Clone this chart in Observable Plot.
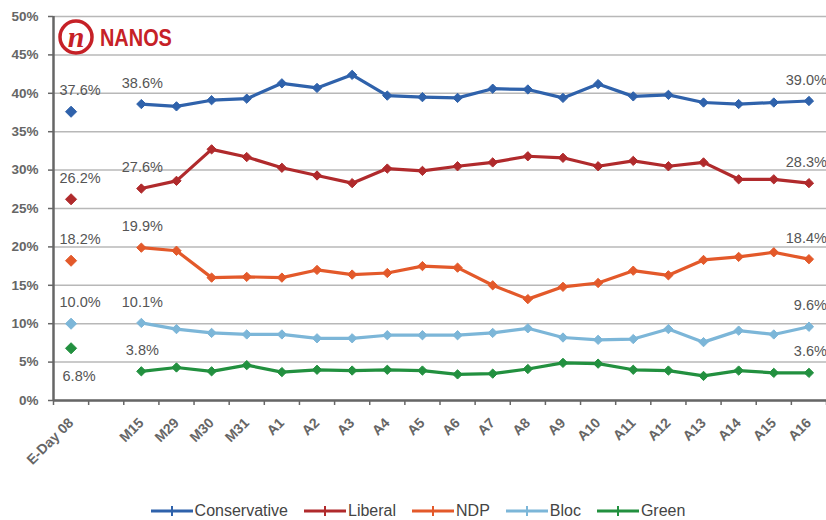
<!DOCTYPE html>
<html>
<head>
<meta charset="utf-8">
<script src="https://cdn.jsdelivr.net/npm/d3@7"></script>
<script src="https://cdn.jsdelivr.net/npm/@observablehq/plot@0.6"></script>
<style>
  html, body { margin: 0; padding: 0; background: #fff; }
  #wrap { position: relative; width: 826px; height: 520px; overflow: hidden; font-family: "Liberation Sans", Arial, sans-serif; }
  #logo { position: absolute; left: 56px; top: 17px; }
  #legend { position: absolute; left: 0; top: 502px; width: 836px; display: flex; justify-content: center; gap: 16px; font-size: 16px; color: #444; }
  .item { display: flex; align-items: center; gap: 2px; }
</style>
</head>
<body>
<div id="wrap"></div>
<script>
// ---- data ----
const categories = ["E-Day 08", "", "M15", "M29", "M30", "M31", "A1", "A2", "A3", "A4", "A5", "A6", "A7", "A8", "A9", "A10", "A11", "A12", "A13", "A14", "A15", "A16"];
const parties = ["Conservative", "Liberal", "NDP", "Bloc", "Green"];
const colors = ["#2f62ab", "#b02a2c", "#e3592a", "#7cb6d8", "#22903f"];
const eday = [37.6, 26.2, 18.2, 10.0, 6.8];
const conservative = [38.6, 38.3, 39.1, 39.3, 41.3, 40.7, 42.4, 39.7, 39.5, 39.4, 40.6, 40.5, 39.4, 41.2, 39.6, 39.8, 38.8, 38.6, 38.8, 39.0];
const liberal      = [27.6, 28.6, 32.7, 31.7, 30.3, 29.3, 28.3, 30.2, 29.9, 30.5, 31.0, 31.8, 31.6, 30.5, 31.2, 30.5, 31.0, 28.8, 28.8, 28.3];
const ndp          = [19.9, 19.5, 16.0, 16.1, 16.0, 17.0, 16.4, 16.6, 17.5, 17.3, 15.0, 13.2, 14.8, 15.3, 16.9, 16.3, 18.3, 18.7, 19.3, 18.4];
const bloc         = [10.1, 9.3, 8.8, 8.6, 8.6, 8.1, 8.1, 8.5, 8.5, 8.5, 8.8, 9.4, 8.2, 7.9, 8.0, 9.3, 7.6, 9.1, 8.6, 9.6];
const green        = [3.8, 4.3, 3.8, 4.6, 3.7, 4.0, 3.9, 4.0, 3.9, 3.4, 3.5, 4.1, 4.9, 4.8, 4.0, 3.9, 3.2, 3.9, 3.6, 3.6];
const yTicks = [0, 5, 10, 15, 20, 25, 30, 35, 40, 45, 50];

// ---- build rows ----
const seriesVals = [conservative, liberal, ndp, bloc, green];
const rows = [];
parties.forEach((p, pi) => {
  seriesVals[pi].forEach((v, i) => rows.push({party: p, i: i + 2, v}));
});
const edayRows = parties.map((p, pi) => ({party: p, i: 0, v: eday[pi]}));
const colorOf = Object.fromEntries(parties.map((p, i) => [p, colors[i]]));

const edayAbove = edayRows.filter(d => d.party !== "Green");
const edayBelow = edayRows.filter(d => d.party === "Green");
const firstLabels = rows.filter(d => d.i === 2);
const lastLabels = rows.filter(d => d.i === categories.length - 1);
const fmt = d => d.v.toFixed(1) + "%";

const labelIdx = categories.map((c, i) => i).filter(i => categories[i] !== "");
const bandEdges = d3.range(categories.length + 1).map(k => k - 0.5);
const lblStyle = {fontSize: 14.5, fill: "#555"};

const chart = Plot.plot({
  width: 826,
  height: 470,
  marginLeft: 53,
  marginRight: 0,
  marginTop: 16,
  marginBottom: 70,
  style: {fontFamily: "Liberation Sans, Arial, sans-serif", background: "transparent", overflow: "visible"},
  x: {domain: [-0.5, categories.length - 0.5], axis: null},
  y: {domain: [0, 50], axis: null},
  marks: [
    Plot.gridY(yTicks, {stroke: "#b8b8b8", strokeOpacity: 1, strokeWidth: 1.5}),
    Plot.axisY(yTicks, {tickSize: 5, tickPadding: 10, stroke: "#666", strokeWidth: 1.5, tickFormat: d => d + "%", fontSize: 13.5, fontWeight: "bold", fill: "#666", label: null}),
    Plot.axisX(bandEdges, {tickSize: 5, tickFormat: () => "", stroke: "#666", strokeWidth: 1.5, label: null}),
    Plot.axisX(labelIdx, {tickSize: 0, tickPadding: 20, tickRotate: -45, tickFormat: i => categories[i], fontSize: 14, fontWeight: "bold", fill: "#666", label: null}),
    Plot.ruleX([-0.5], {stroke: "#666", strokeWidth: 2.5}),
    Plot.ruleY([0], {stroke: "#666", strokeWidth: 2.5}),
    Plot.line(rows, {x: "i", y: "v", z: "party", stroke: d => colorOf[d.party], strokeWidth: 3.2}),
    Plot.dot(rows, {x: "i", y: "v", symbol: "diamond2", r: 4.2, fill: d => colorOf[d.party], stroke: d => colorOf[d.party], strokeWidth: 1}),
    Plot.dot(edayRows, {x: "i", y: "v", symbol: "diamond2", r: 5, fill: d => colorOf[d.party], stroke: d => colorOf[d.party], strokeWidth: 1}),
    Plot.text(edayAbove, {x: "i", y: "v", text: fmt, dx: 9, dy: -21, ...lblStyle}),
    Plot.text(edayBelow, {x: "i", y: "v", text: fmt, dx: 8, dy: 28, ...lblStyle}),
    Plot.text(firstLabels, {x: "i", y: "v", text: fmt, dx: 1, dy: -21, ...lblStyle}),
    Plot.text(lastLabels, {x: "i", y: "v", text: fmt, textAnchor: "end", dx: 18, dy: -21, ...lblStyle})
  ]
});

const wrap = document.getElementById("wrap");
wrap.appendChild(chart);

// logo
const logo = document.createElement("div");
logo.id = "logo";
logo.innerHTML = `<svg width="130" height="42" xmlns="http://www.w3.org/2000/svg">
  <circle cx="20" cy="20" r="16" fill="none" stroke="#c62127" stroke-width="3.5"/>
  <text x="20" y="30" text-anchor="middle" font-family="Liberation Serif, serif" font-style="italic" font-weight="bold" font-size="30" fill="#c62127">n</text>
  <text x="53" y="29" transform="scale(0.83 1)" font-family="Liberation Sans, sans-serif" font-weight="bold" font-size="24" fill="#c62127">NANOS</text>
</svg>`;
wrap.appendChild(logo);

// legend
const legend = document.createElement("div");
legend.id = "legend";
parties.forEach((p, i) => {
  const item = document.createElement("div");
  item.className = "item";
  item.innerHTML = `<svg width="42" height="12"><line x1="0" y1="6" x2="42" y2="6" stroke="${colors[i]}" stroke-width="3"/><line x1="21" y1="1" x2="21" y2="11" stroke="${colors[i]}" stroke-width="2"/></svg><span>${p}</span>`;
  legend.appendChild(item);
});
wrap.appendChild(legend);
</script>
</body>
</html>
